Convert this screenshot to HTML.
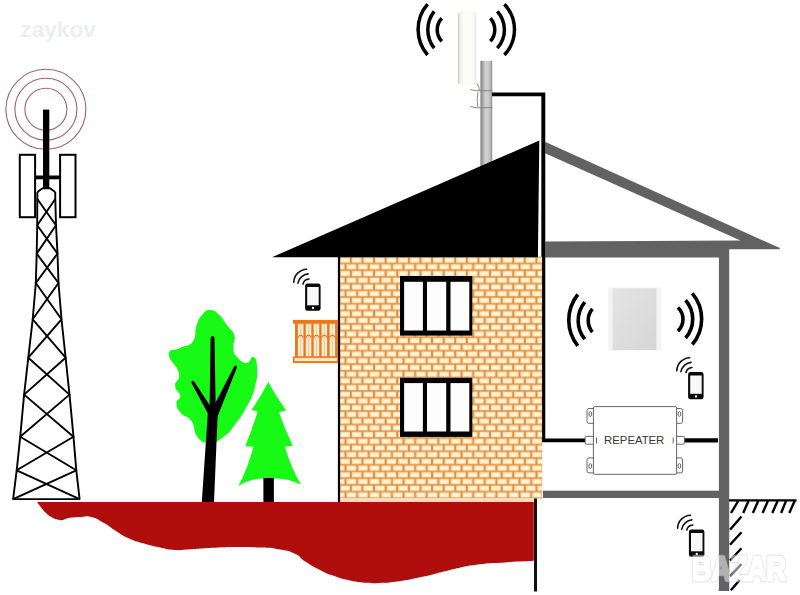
<!DOCTYPE html>
<html lang="en">
<head>
<meta charset="utf-8">
<title>Repeater diagram</title>
<style>
html,body{margin:0;padding:0;background:#fff;}
body{width:800px;height:595px;overflow:hidden;font-family:"Liberation Sans",sans-serif;}
svg{display:block;}
</style>
</head>
<body>
<svg width="800" height="595" viewBox="0 0 800 595">
<defs>
  <pattern id="brick" x="339.25" y="256.75" width="11.6" height="13.418" patternUnits="userSpaceOnUse">
    <rect x="0" y="0" width="11.6" height="13.418" fill="#e08f40"/>
    <rect x="0.95" y="0.7" width="9.7" height="5.3" fill="#ffdfae"/>
    <rect x="2" y="1.6" width="7.6" height="3.5" fill="#fff3da"/>
    <rect x="7.25" y="7.41" width="9.7" height="5.3" fill="#ffdfae"/>
    <rect x="-4.35" y="7.41" width="9.7" height="5.3" fill="#ffdfae"/>
    <rect x="8.3" y="8.31" width="7.6" height="3.5" fill="#fff3da"/>
    <rect x="-3.3" y="8.31" width="7.6" height="3.5" fill="#fff3da"/>
  </pattern>
  <linearGradient id="pole" x1="0" x2="1" y1="0" y2="0">
    <stop offset="0" stop-color="#7f7f7f"/>
    <stop offset="0.2" stop-color="#a8a8a8"/>
    <stop offset="0.45" stop-color="#d4d4d4"/>
    <stop offset="0.8" stop-color="#c2c2c2"/>
    <stop offset="0.93" stop-color="#a0a0a0"/>
    <stop offset="1" stop-color="#777777"/>
  </linearGradient>
  <linearGradient id="ant" x1="0" x2="1" y1="0" y2="0">
    <stop offset="0" stop-color="#bdbdb8"/>
    <stop offset="0.09" stop-color="#efefec"/>
    <stop offset="0.3" stop-color="#fbfbf8"/>
    <stop offset="0.86" stop-color="#fafaf7"/>
    <stop offset="0.9" stop-color="#ecece9"/>
    <stop offset="1" stop-color="#f3f3f0"/>
  </linearGradient>
  <linearGradient id="panel" x1="0" x2="1" y1="0" y2="1">
    <stop offset="0" stop-color="#e4e4e4"/>
    <stop offset="1" stop-color="#d6d6d6"/>
  </linearGradient>
  <g id="phone">
    <rect x="0" y="0" width="15.5" height="27.2" rx="2.4" ry="2.4" fill="#0a0a0a"/>
    <rect x="2.1" y="3.4" width="11.5" height="18.3" fill="#f8f8f8"/>
    <circle cx="7.9" cy="24.4" r="1.15" fill="#fff"/>
    <g fill="none" stroke="#111" stroke-width="1.6" stroke-linecap="round">
      <path d="M -2.1 0.4 A 6.65 6.65 0 0 1 3.9 -4.65"/>
      <path d="M -7.2 -0.5 A 11.4 11.4 0 0 1 3.0 -9.7"/>
      <path d="M -11.3 -1.4 A 13.4 13.4 0 0 1 1.6 -14.4"/>
    </g>
  </g>
</defs>

<rect x="0" y="0" width="800" height="595" fill="#ffffff"/>

<!-- watermark top-left -->
<text x="20.3" y="37.4" font-family="'Liberation Sans',sans-serif" font-weight="bold" font-size="22.8" fill="#ededf4" textLength="75.6" lengthAdjust="spacingAndGlyphs">zaykov</text>

<!-- ============ cell tower ============ -->
<g id="tower">
  <g fill="none" stroke="#a8606c" stroke-width="1.1">
    <circle cx="45.9" cy="109.3" r="21"/>
    <circle cx="45.9" cy="109.3" r="31"/>
    <circle cx="45.9" cy="109.3" r="40"/>
  </g>
  <rect x="43" y="109.6" width="6.3" height="78.6" fill="#000"/>
  <rect x="19.8" y="154.8" width="15.3" height="62.4" fill="#fff" stroke="#000" stroke-width="2"/>
  <rect x="60.1" y="154.8" width="15.4" height="62.4" fill="#fff" stroke="#000" stroke-width="2"/>
  <rect x="35" y="175.5" width="26" height="3.8" fill="#000"/>
  <g fill="none" stroke="#000" stroke-width="1.9" stroke-linejoin="round">
    <!-- legs -->
    <path d="M37.4 192 L42.6 188.3 L50 188.3 L55.2 192"/>
    <path d="M37.4 192 L37.3 199 L37.2 225.3 L36.7 253.6 L35.8 283 L32.7 319.3 L28.3 357.7 L24.1 394.6 L20.2 436.8 L16.7 470.3 L13.1 499.1 L79.6 499.1 L76.3 470.3 L73.5 436.8 L69.5 394.6 L65.6 357.7 L61.5 319.3 L58.5 283 L57.5 253.6 L56.0 225.3 L55.3 199 L55.2 192"/>
    <!-- diagonals -->
    <path d="M37.3 199 L56.0 225.3 L36.7 253.6 L58.5 283 L32.7 319.3 L65.6 357.7 L24.1 394.6 L73.5 436.8 L16.7 470.3 L79.6 499.1"/>
    <path d="M55.3 199 L37.2 225.3 L57.5 253.6 L35.8 283 L61.5 319.3 L28.3 357.7 L69.5 394.6 L20.2 436.8 L76.3 470.3 L13.1 499.1"/>
  </g>
</g>

<!-- ============ ground ============ -->
<path d="M37.1 501.9 L533.8 501.9 L533.8 560.8 C525.2 561.3 521.9 561.3 505.0 562.4 C488.1 563.5 494.0 562.2 477.5 564.5 C461.0 566.8 466.5 566.3 450.0 570.0 C433.5 573.7 439.0 573.3 422.5 576.8 C406.0 580.3 407.8 580.0 395.0 581.8 C382.2 583.6 388.2 582.6 380.0 582.9 C371.8 583.2 376.5 583.5 367.5 582.8 C358.5 582.0 359.8 582.4 350.0 580.4 C340.2 578.4 344.0 579.4 335.0 576.3 C326.0 573.2 329.0 574.5 320.0 570.0 C311.0 565.5 312.5 566.2 305.0 561.3 C297.5 556.4 302.5 557.3 295.0 553.8 C287.5 550.3 290.5 551.4 280.0 549.5 C269.5 547.6 273.5 548.2 260.0 547.5 C246.5 546.8 250.0 546.9 235.0 547.0 C220.0 547.1 223.5 547.3 210.0 548.0 C196.5 548.7 200.5 548.7 190.0 549.3 C179.5 549.9 184.0 550.5 175.0 550.0 C166.0 549.5 169.3 549.4 160.0 547.5 C150.7 545.6 153.6 546.5 144.0 543.6 C134.4 540.8 136.4 541.8 128.0 538.0 C119.6 534.2 123.2 535.5 116.0 531.0 C108.8 526.5 111.2 527.1 104.0 523.0 C96.8 518.9 98.9 519.0 92.0 517.2 C85.1 515.4 87.0 516.8 81.0 516.9 C75.0 517.0 76.5 517.0 72.0 517.6 C67.5 518.2 68.7 518.1 66.0 518.8 C63.3 519.4 65.2 519.6 63.0 519.9 C60.8 520.2 61.9 520.5 58.5 519.7 C55.1 518.9 55.6 519.3 51.8 517.2 C47.9 515.2 48.9 515.7 45.8 512.8 C42.6 509.8 43.8 510.8 41.2 507.5 C38.7 504.2 38.3 503.6 37.1 501.9 Z" fill="#b00e0c"/>

<!-- ============ trees ============ -->
<path d="M210.5 310.1 C214.9 310.4 214.9 311.1 219.3 315.1 C223.7 319.1 222.9 319.8 226.9 325.2 C230.9 330.6 232.7 329.2 234.4 335.3 C236.1 341.4 232.5 342.2 233.2 347.9 C233.9 353.6 233.4 352.8 236.9 356.8 C240.4 360.8 242.1 362.9 246.5 363.0 C250.9 363.1 250.5 355.6 253.3 357.0 C256.1 358.4 256.8 359.8 257.1 368.1 C257.4 376.4 257.3 378.2 254.6 388.3 C251.9 398.4 252.0 396.6 247.0 406.0 C242.0 415.4 241.8 415.5 235.7 423.6 C229.6 431.7 231.0 431.2 224.3 436.2 C217.6 441.2 217.6 442.2 210.5 442.5 C203.4 442.8 202.9 443.2 197.8 437.5 C192.7 431.8 195.9 427.5 191.5 421.1 C187.1 414.7 185.4 418.2 181.4 413.5 C177.4 408.8 176.7 408.1 176.4 403.4 C176.1 398.7 180.5 400.6 180.2 395.9 C179.9 391.2 175.4 391.9 175.1 385.8 C174.8 379.7 180.6 381.6 178.9 373.2 C177.2 364.8 168.5 360.9 168.8 354.2 C169.1 347.5 173.8 351.3 180.2 347.9 C186.6 344.5 188.4 347.7 192.8 341.6 C197.2 335.5 193.9 332.6 196.6 325.2 C199.3 317.8 199.2 317.9 202.9 313.9 C206.6 309.9 206.1 309.8 210.5 310.1 Z" fill="#16fa16"/>
<!-- trunk and branches -->
<path d="M201.8 502 L206 440 L207.8 413.5 L191.4 382.8 C191 381 193.2 379.9 194.2 381.4 L209.6 405 L210.6 338 C210.7 335.6 214.4 335.6 214.5 338 L215.6 402.5 L234.2 366.3 C235 364.8 237.5 365.8 236.9 367.5 L217.6 416.5 L214 502 Z" fill="#000"/>
<!-- pine -->
<path d="M268.3 382 Q277 398 286.2 410.2 L279 412.3 Q285 430 292.7 445.8 L284.8 446.6 Q291 468 301 484.6 Q286 477.5 274 478.6 L262.6 478.6 Q250 478.5 238.4 486 Q248 468 253.4 446.8 L245.3 446 Q252 430 257.6 411.4 L251.4 410 Q260 398 268.3 382 Z" fill="#16fa16"/>
<rect x="263.4" y="478" width="10.5" height="24" fill="#000"/>

<!-- ============ brick house ============ -->
<rect x="480.4" y="60.8" width="11.8" height="108" fill="url(#pole)"/>
<path d="M492 94.4 L543.3 94.4 L543.3 440.4 L585.2 440.4" fill="none" stroke="#000" stroke-width="3.9" stroke-linejoin="miter"/>
<rect x="338.6" y="256.5" width="203.5" height="242" fill="url(#brick)"/>
<rect x="338.6" y="498.4" width="195.4" height="3.6" fill="#ffdcc0"/>
<rect x="337.9" y="256" width="2.2" height="246" fill="#000"/>
<!-- roof -->
<path d="M272 257.2 L539.3 140.5 L537.9 257.2 Z" fill="#000"/>
<!-- windows -->
<g>
  <rect x="400" y="276" width="72.3" height="59.6" fill="#000"/>
  <rect x="404.1" y="281.8" width="18.8" height="48.7" fill="#fdfdfd"/>
  <rect x="427" y="281.8" width="19.2" height="48.7" fill="#fdfdfd"/>
  <rect x="450.5" y="281.8" width="18.8" height="48.7" fill="#fdfdfd"/>
  <rect x="400" y="377.8" width="72.3" height="59.1" fill="#000"/>
  <rect x="404.1" y="383.1" width="18.8" height="48.4" fill="#fdfdfd"/>
  <rect x="427" y="383.1" width="19.2" height="48.4" fill="#fdfdfd"/>
  <rect x="450.5" y="383.1" width="18.8" height="48.4" fill="#fdfdfd"/>
</g>

<!-- balcony -->
<g>
  <rect x="295" y="321" width="43" height="39" fill="#e9791f"/>
  <rect x="292.9" y="319.9" width="45.3" height="3.8" fill="#e9791f"/>
  <rect x="292.9" y="356.4" width="45.3" height="6.6" fill="#e9791f"/>
  <rect x="294.4" y="357.9" width="42.8" height="3.2" fill="#ffe2b6"/>
  <g fill="#ffeed4">
    <rect x="297.9" y="323.8" width="5.5" height="32.4"/>
    <rect x="305.8" y="323.8" width="5.5" height="32.4"/>
    <rect x="313.7" y="323.8" width="5.5" height="32.4"/>
    <rect x="321.6" y="323.8" width="5.5" height="32.4"/>
    <rect x="329.6" y="323.8" width="5.5" height="32.4"/>
  </g>
  <g fill="none" stroke="#e9791f" stroke-width="1.3">
    <path d="M297.8 337.6 Q300.65 332.8 303.5 337.6 M305.7 337.6 Q308.55 332.8 311.4 337.6 M313.6 337.6 Q316.45 332.8 319.3 337.6 M321.5 337.6 Q324.35 332.8 327.2 337.6 M329.5 337.6 Q332.35 332.8 335.2 337.6"/>
  </g>
  <g stroke="#e9791f" stroke-width="0.8" stroke-opacity="0.45">
    <path d="M300.65 324 V356 M308.55 324 V356 M316.45 324 V356 M324.35 324 V356 M332.35 324 V356"/>
  </g>
</g>

<!-- ============ outdoor antenna ============ -->
<path d="M458.1 83.8 L458.1 16.2 Q458.1 10.4 464 10.4 L470.8 10.4 Q476.7 10.4 476.7 16.2 L476.7 83.8 L470 85.6 L465 85.4 Z" fill="url(#ant)"/>
<g fill="none" stroke="#7d7d7d" stroke-width="0.9">
  <path d="M470.3 89.6 L476 90.7 L492.4 90.7 M470.3 106.5 L476 107.7 L492.4 107.7 M476.9 83.5 Q479.6 87.5 479.4 91 M477.9 92 Q476.6 99 477.9 107"/>
</g>
<g fill="none" stroke="#000" stroke-width="3.5" stroke-linecap="butt">
  <path d="M427.6 4.2 A38.7 38.7 0 0 0 427.6 55"/>
  <path d="M434.2 11.3 A29.8 29.8 0 0 0 434.2 48.2"/>
  <path d="M441.8 18.2 A16.8 16.8 0 0 0 441.8 41.3"/>
  <path d="M504.4 4.2 A37 37 0 0 1 504.4 55"/>
  <path d="M497.3 11.3 A27.5 27.5 0 0 1 497.3 48.2"/>
  <path d="M490.3 18.2 A17.1 17.1 0 0 1 490.3 41.3"/>
</g>
<!-- cable -->
<path d="M684.4 440.4 L718 440.4" fill="none" stroke="#000" stroke-width="4.3"/>

<!-- ============ gray house frame ============ -->
<g fill="#626262">
  <path d="M545 141.7 L779.9 248.1 L779.5 249.3 L729.2 249.3 L729.2 591 L718.9 591 L718.9 257.4 L545 257.4 L545 241.6 L740.5 240.6 L545 153.3 Z"/>
  <rect x="543" y="490.7" width="176" height="7.3"/>
</g>

<!-- indoor panel antenna -->
<rect x="608.3" y="287.6" width="52.6" height="63" fill="#f3f3f3"/>
<rect x="612.6" y="288.2" width="43.8" height="61.8" fill="url(#panel)"/>
<g fill="none" stroke="#000" stroke-width="3.6" stroke-linecap="butt">
  <path d="M577.8 294.5 A41 41 0 0 0 577.8 345.8"/>
  <path d="M584.8 302.2 A29 29 0 0 0 584.8 339.1"/>
  <path d="M592.4 308.9 A18.1 18.1 0 0 0 592.4 332.1"/>
  <path d="M692.3 293.4 A39.6 39.6 0 0 1 692.3 344.5"/>
  <path d="M685.6 300.2 A28.7 28.7 0 0 1 685.6 338"/>
  <path d="M677.9 307.5 A16.2 16.2 0 0 1 677.9 331.1"/>
</g>

<!-- repeater -->
<g fill="#fff" stroke="#555" stroke-width="0.9">
  <rect x="587" y="408.5" width="8" height="14.8" rx="2"/>
  <rect x="587" y="457.9" width="8" height="15" rx="2"/>
  <rect x="675" y="408.5" width="7.6" height="14.8" rx="2"/>
  <rect x="675" y="457.9" width="7.6" height="15" rx="2"/>
  <rect x="585.2" y="436.4" width="9" height="7.8" rx="1"/>
  <rect x="676" y="436.4" width="8.4" height="7.8" rx="1"/>
  <rect x="593.4" y="406.6" width="83.2" height="67.7" rx="1.5"/>
  <ellipse cx="590.3" cy="414" rx="1.4" ry="2.4"/>
  <ellipse cx="590.3" cy="466" rx="1.4" ry="2.4"/>
  <ellipse cx="679.4" cy="414" rx="1.4" ry="2.4"/>
  <ellipse cx="679.4" cy="466" rx="1.4" ry="2.4"/>
  <path d="M596.5 437.5 V443.5 M673.2 437.5 V443.5" fill="none"/>
</g>
<text x="604.1" y="444.3" font-family="'Liberation Sans',sans-serif" font-size="11.8" fill="#363636" opacity="0.99" textLength="60.2" lengthAdjust="spacingAndGlyphs">REPEATER</text>

<!-- basement wall line -->
<rect x="534" y="498.5" width="3" height="93" fill="#111"/>

<!-- right ground with hatching -->
<g stroke="#000" fill="none">
  <path d="M729 500.4 L796.6 500.4" stroke-width="2.4"/>
  <g stroke-width="2.4">
    <path d="M738.2 501 L731 513 M748.5 501 L743.2 513 M758.2 501 L752.9 513 M767.9 501 L762.6 513 M777.6 501 L772.3 513 M786 501 L781.1 513 M794.6 501 L789.3 513"/>
    <path d="M741.5 516.5 L730 529.7 M741.5 532.3 L730 544.7 M741.5 548.2 L730 560.5 M741.5 564 L730 576.4 M739.7 580 L730.9 590.3"/>
  </g>
</g>

<!-- phones -->
<use href="#phone" x="305.1" y="283.6"/>
<use href="#phone" x="688.1" y="372.1"/>
<use href="#phone" x="688.9" y="529.6"/>

<!-- bazar watermark -->
<g opacity="0.5" font-family="'Liberation Sans',sans-serif" font-weight="bold" font-size="34" stroke-linejoin="round">
  <text x="692" y="580" fill="#b4b4b4" stroke="#b4b4b4" stroke-width="4.4" textLength="94" lengthAdjust="spacingAndGlyphs">BAZAR</text>
  <text x="692" y="580" fill="#ffffff" stroke="#ffffff" stroke-width="3" textLength="94" lengthAdjust="spacingAndGlyphs">BAZAR</text>
</g>
</svg>
</body>
</html>
